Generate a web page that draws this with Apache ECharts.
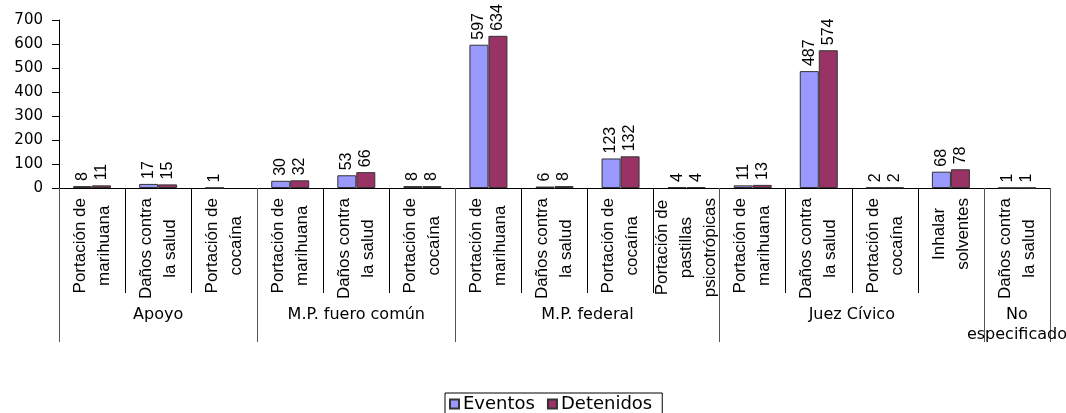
<!DOCTYPE html>
<html>
<head>
<meta charset="utf-8">
<script src="https://cdn.jsdelivr.net/npm/echarts@6/dist/echarts.min.js"></script>
<style>html,body{margin:0;padding:0;background:#fff}#c{width:1066px;height:413px}</style>
</head>
<body>
<div id="c"></div>
<script>
const categories = [
  'Portación de\nmarihuana', 'Daños contra\nla salud', 'Portación de\ncocaína',
  'Portación de\nmarihuana', 'Daños contra\nla salud', 'Portación de\ncocaína',
  'Portación de\nmarihuana', 'Daños contra\nla salud', 'Portación de\ncocaína', 'Portación de\npastillas\npsicotrópicas',
  'Portación de\nmarihuana', 'Daños contra\nla salud', 'Portación de\ncocaína', 'Inhalar\nsolventes',
  'Daños contra\nla salud'
];
const groups = ['Apoyo', 'M.P. fuero común', 'M.P. federal', 'Juez Cívico', 'No\nespecificado'];
const groupSizes = [3, 3, 4, 4, 1];
const eventos   = [8, 17, 1, 30, 53, 8, 597, 6, 123, 4, 11, 487, 2, 68, 1];
const detenidos = [11, 15, null, 32, 66, 8, 634, 8, 132, 4, 13, 574, 2, 78, 1];
const yTicks = [0, 100, 200, 300, 400, 500, 600, 700];

// Half-category positions for the group level axis
const halfCount = categories.length * 2;
const groupAxisData = new Array(halfCount + 1).fill('');
const sepSet = new Set();
let start = 0;
groups.forEach((g, i) => {
  sepSet.add(start * 2);
  groupAxisData[start * 2 + groupSizes[i]] = g;
  start += groupSizes[i];
});
sepSet.add(halfCount);

const catRich = {c: {align: 'center', fontFamily: 'Liberation Sans', fontSize: 17, lineHeight: 24, color: '#000'}};

const chart = echarts.init(document.getElementById('c'), null, {renderer: 'canvas'});
chart.setOption({
  animation: false,
  backgroundColor: '#fff',
  grid: {left: 59, right: 16, top: 20, bottom: 225, containLabel: false, outerBoundsMode: 'none'},
  legend: {
    data: ['Eventos', 'Detenidos'],
    left: 445, top: 393,
    icon: 'rect', itemWidth: 9, itemHeight: 9, itemGap: 12,
    borderColor: '#000', borderWidth: 1, padding: [2, 10, 6, 4],
    textStyle: {fontFamily: 'DejaVu Sans', fontSize: 18, color: '#000', padding: [0, 0, 0, -1]}
  },
  xAxis: [{
    type: 'category',
    data: categories,
    position: 'bottom',
    axisLine: {lineStyle: {color: '#000', width: 1}},
    axisTick: {show: true, interval: 0, length: 105, lineStyle: {color: '#000'}},
    axisLabel: {
      interval: 0, rotate: 90, margin: 10,
      formatter: v => v.split('\n').map(s => '{c|' + s + '}').join('\n'),
      rich: catRich
    },
    splitLine: {show: false}
  }, {
    type: 'category',
    data: groupAxisData,
    position: 'bottom',
    boundaryGap: false,
    axisLine: {show: false},
    axisTick: {show: true, interval: (i) => sepSet.has(i), length: 154, lineStyle: {color: '#555'}},
    axisLabel: {interval: 0, margin: 117, fontFamily: 'DejaVu Sans', fontSize: 16, lineHeight: 20, color: '#000', align: 'center'},
    splitLine: {show: false}
  }],
  yAxis: {
    type: 'value', min: 0, max: 700, interval: 100,
    axisLine: {show: true, lineStyle: {color: '#000'}},
    axisTick: {show: true, length: 7, lineStyle: {color: '#000'}},
    axisLabel: {margin: 16, fontFamily: 'DejaVu Sans', fontSize: 15, color: '#000',
      formatter: v => yTicks.indexOf(v) >= 0 ? String(v) : ''},
    splitLine: {show: false}
  },
  series: [{
    name: 'Eventos', type: 'bar', xAxisIndex: 0, data: eventos,
    barWidth: 19, barGap: '0%',
    itemStyle: {color: '#9999FF', borderColor: '#333', borderWidth: 1},
    label: {show: true, position: 'top', rotate: 90, align: 'left', verticalAlign: 'middle', distance: 5,
      fontFamily: 'Liberation Sans', fontSize: 16, color: '#000'}
  }, {
    name: 'Detenidos', type: 'bar', xAxisIndex: 0, data: detenidos,
    barWidth: 19, barGap: '0%',
    itemStyle: {color: '#993366', borderColor: '#333', borderWidth: 1},
    label: {show: true, position: 'top', rotate: 90, align: 'left', verticalAlign: 'middle', distance: 5,
      fontFamily: 'Liberation Sans', fontSize: 16, color: '#000'}
  }]
});
</script>
</body>
</html>
